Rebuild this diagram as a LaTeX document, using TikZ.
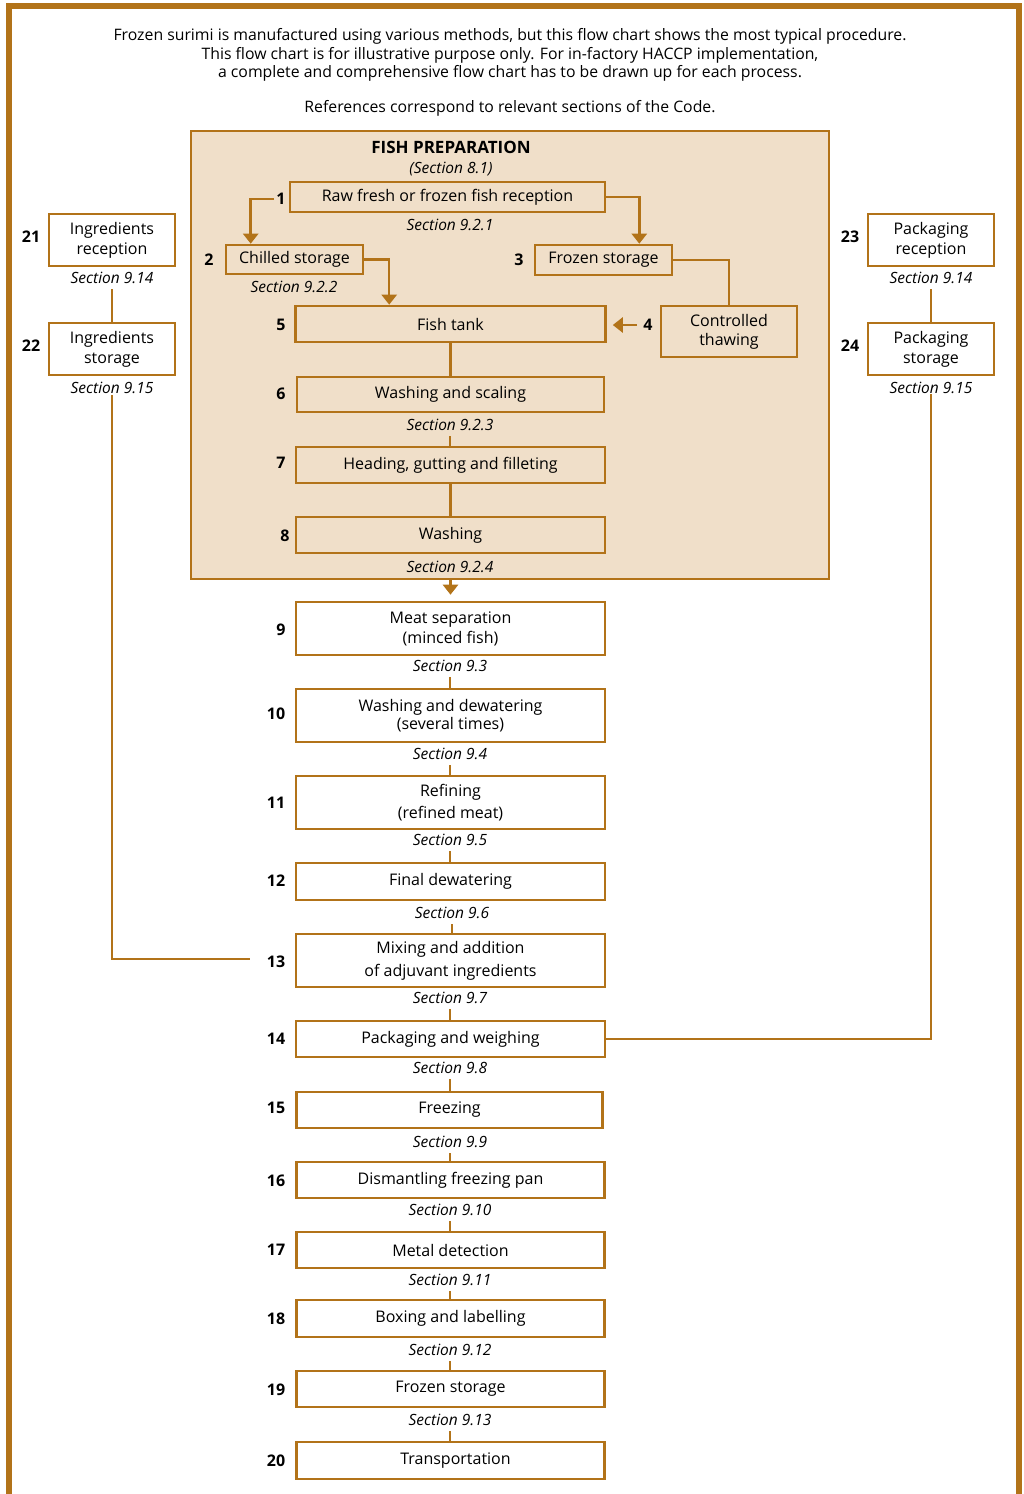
\documentclass[tikz,border=0pt]{standalone}
\usepackage{fontspec}
\setmainfont{Open Sans}
\usepackage{tikz}
\usetikzlibrary{arrows.meta, positioning}

\definecolor{haccp}{RGB}{178,115,25}
\definecolor{prepfill}{RGB}{240,223,201}

\tikzset{
	stepbox/.style={draw=haccp, line width=2.6pt, align=center, inner sep=2pt, font=\fontsize{16}{20}\selectfont},
	mainbox/.style={stepbox, minimum width=309pt, minimum height=36pt},
	tallbox/.style={stepbox, minimum width=309pt, minimum height=53pt},
	sidebox/.style={stepbox, minimum width=126pt, minimum height=52pt},
	prepbox/.style={draw=haccp, line width=2.4pt, fill=prepfill, inner sep=0pt},
	num/.style={font=\fontsize{16}{18}\selectfont\bfseries, inner sep=2pt},
	sec/.style={font=\fontsize{15.5}{18}\selectfont\itshape, inner sep=4pt, text height=12.5pt, text depth=2pt},
	link/.style={draw=haccp, line width=2.5pt},
	arr/.style={link, -{Triangle[width=15pt,length=10pt]}},
	frame/.style={draw=haccp, line width=5.5pt, line join=miter}
}

\begin{document}
\begin{tikzpicture}[x=1pt, y=-1pt]
		\useasboundingbox (0,0) rectangle (1024,1494);
		\fill[white] (0,0) rectangle (1024,1494);
		\draw[frame] (9,1494) -- (9,6) -- (1019,6) -- (1019,1494);

		% heading text
		\node[align=center, font=\fontsize{15.8}{18.5}\selectfont] (intro) at (510,55) {Frozen surimi is manufactured using various methods, but this flow chart shows the most typical procedure.\\This flow chart is for illustrative purpose only. For in-factory HACCP implementation,\\a complete and comprehensive flow chart has to be drawn up for each process.};
		\node[font=\fontsize{15.8}{18}\selectfont] (refs) at (510,108) {References correspond to relevant sections of the Code.};

		% fish preparation
		\node[prepbox, minimum width=638pt, minimum height=448pt] (prep) at (510,355) {};
		\node[font=\fontsize{17}{18}\selectfont\bfseries] (preptitle) at (451,147) {FISH PREPARATION};
		\node[sec] (prepsec) at (451,168) {(Section 8.1)};

		\node[stepbox, minimum width=315pt, minimum height=30pt] (s1) at (447.5,197) {Raw fresh or frozen fish reception}; \node[num] (n1) at (281,199) {1}; \node[sec] (c1) at (450,225) {Section 9.2.1};
		\node[stepbox, minimum width=137pt, minimum height=29pt] (s2) at (294.5,259.5) {Chilled storage}; \node[num] (n2) at (209,260) {2}; \node[sec] (c2) at (294,287) {Section 9.2.2};
		\node[stepbox, minimum width=137pt, minimum height=30pt] (s3) at (603.5,260) {Frozen storage}; \node[num] (n3) at (519,260) {3};
		\node[stepbox, minimum width=136pt, minimum height=51pt, font=\fontsize{16}{19}\selectfont] (s4) at (729,331.5) {Controlled\\thawing}; \node[num] (n4) at (648,325) {4};
		\node[mainbox, minimum width=310pt] (s5) at (450.5,324) {Fish tank}; \node[num] (n5) at (281,325) {5};
		\node[mainbox, minimum width=307pt, minimum height=35pt] (s6) at (450.5,394.5) {Washing and scaling}; \node[num] (n6) at (281,394) {6}; \node[sec] (c6) at (450,425) {Section 9.2.3};
		\node[mainbox] (s7) at (450.5,465) {Heading, gutting and filleting}; \node[num] (n7) at (281,463) {7};
		\node[mainbox] (s8) at (450.5,535) {Washing}; \node[num] (n8) at (285,536) {8}; \node[sec] (c8) at (450,567) {Section 9.2.4};

		\draw[arr] (n1.west) -| ([xshift=26pt]s2.north west);
		\draw[arr] (s1.east) -| ([xshift=-34pt]s3.north east);
		\draw[arr] (s2.east) -| ([xshift=95pt]s5.north west);
		\draw[link] (s3.east) -| (s4.north);
		\draw[arr, shorten <=4pt, shorten >=6pt] (n4.west) -- (n4.west -| s5.east);
		\draw[link] (s5.south) -- (s6.north);
		\draw[link] (c6.south) -- (c6.south |- s7.north);
		\draw[link] (s7.south) -- (s8.north);

		% main line
		\node[tallbox] (s9) at (450.5,628.5) {Meat separation\\(minced fish)}; \node[num] (n9) at (281,630) {9}; \node[sec] (c9) at (450,666) {Section 9.3};
		\node[tallbox, font=\fontsize{16}{18}\selectfont] (s10) at (450.5,715.5) {Washing and dewatering\\(several times)}; \node[num] (n10) at (276,714) {10}; \node[sec] (c10) at (450,754) {Section 9.4};
		\node[tallbox, font=\fontsize{16}{22}\selectfont] (s11) at (450.5,802.5) {Refining\\(refined meat)}; \node[num] (n11) at (276,803) {11}; \node[sec] (c11) at (450,840) {Section 9.5};
		\node[mainbox, minimum height=37pt] (s12) at (450.5,881.5) {Final dewatering}; \node[num] (n12) at (276,881) {12}; \node[sec] (c12) at (452,913) {Section 9.6};
		\node[tallbox, font=\fontsize{16}{23}\selectfont] (s13) at (450.5,960.5) {Mixing and addition\\of adjuvant ingredients}; \node[num] (n13) at (276,962) {13}; \node[sec] (c13) at (450,998) {Section 9.7};
		\node[mainbox] (s14) at (450.5,1039) {Packaging and weighing}; \node[num] (n14) at (276,1039) {14}; \node[sec] (c14) at (450,1068) {Section 9.8};
		\node[mainbox, minimum width=306pt] (s15) at (449.5,1110) {Freezing}; \node[num] (n15) at (276,1108) {15}; \node[sec] (c15) at (450,1142) {Section 9.9};
		\node[mainbox, minimum width=308pt] (s16) at (450.5,1180) {Dismantling freezing pan}; \node[num] (n16) at (276,1181) {16}; \node[sec] (c16) at (450,1210) {Section 9.10};
		\node[mainbox, minimum width=308pt] (s17) at (450.5,1250) {Metal detection}; \node[num] (n17) at (276,1250) {17}; \node[sec] (c17) at (450,1280) {Section 9.11};
		\node[mainbox, minimum width=308pt, minimum height=37pt] (s18) at (450.5,1318.5) {Boxing and labelling}; \node[num] (n18) at (276,1319) {18}; \node[sec] (c18) at (450,1350) {Section 9.12};
		\node[mainbox, minimum width=308pt] (s19) at (450.5,1389) {Frozen storage}; \node[num] (n19) at (276,1390) {19}; \node[sec] (c19) at (450,1420) {Section 9.13};
		\node[mainbox, minimum width=308pt, minimum height=37pt] (s20) at (450.5,1460.5) {\hspace{10pt}Transportation}; \node[num] (n20) at (276,1461) {20};

		\draw[arr, shorten >=6pt] (prep.south -| s9.north) -- (s9.north);
		\draw[link] (c9.south) -- (c9.south |- s10.north);
		\draw[link] (c10.south) -- (c10.south |- s11.north);
		\draw[link] (c11.south) -- (c11.south |- s12.north);
		\draw[link] (c12.south) -- (c12.south |- s13.north);
		\draw[link] (c13.south) -- (c13.south |- s14.north);
		\draw[link] (c14.south) -- (c14.south |- s15.north);
		\draw[link] (c15.south) -- (c15.south |- s16.north);
		\draw[link] (c16.south) -- (c16.south |- s17.north);
		\draw[link] (c17.south) -- (c17.south |- s18.north);
		\draw[link] (c18.south) -- (c18.south |- s19.north);
		\draw[link] (c19.south) -- (c19.south |- s20.north);

		% ingredients and packaging
		\node[sidebox] (s21) at (112,240) {Ingredients\\reception}; \node[num] (n21) at (31,237) {21}; \node[sec] (c21) at (112,278) {Section 9.14};
		\node[sidebox] (s22) at (112,349) {Ingredients\\storage}; \node[num] (n22) at (31,346) {22}; \node[sec] (c22) at (112,388) {Section 9.15};
		\node[sidebox] (s23) at (931,240) {Packaging\\reception}; \node[num] (n23) at (850,237) {23}; \node[sec] (c23) at (931,278) {Section 9.14};
		\node[sidebox] (s24) at (931,349) {Packaging\\storage}; \node[num] (n24) at (850,346) {24}; \node[sec] (c24) at (931,388) {Section 9.15};
		\coordinate (j13) at (250,959);

		\draw[link] (c21.south) -- (s22.north);
		\draw[link] (c23.south) -- (s24.north);
		\draw[link] ([yshift=4pt]c22.south) |- (j13);
		\draw[link] ([yshift=5pt]c24.south) |- (s14.east);
\end{tikzpicture}
\end{document}
